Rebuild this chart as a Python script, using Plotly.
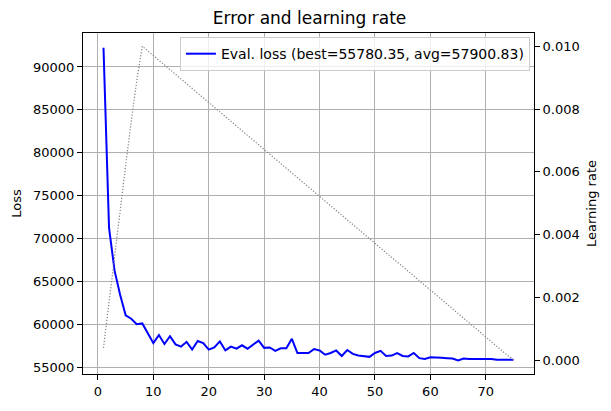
import plotly.graph_objects as go

epochs = list(range(1, 76))

loss = [92400, 71400, 66400, 63600, 61200, 60800, 60150, 60250, 59100, 57950,
        58900, 57850, 58750, 57800, 57550, 58100, 57200, 58200, 57950, 57200,
        57450, 58150, 57100, 57550, 57300, 57700, 57300, 57750, 58250, 57400,
        57450, 57050, 57350, 57350, 58450, 56800, 56800, 56800, 57250, 57100,
        56600, 56800, 57100, 56450, 57150, 56700, 56500, 56450, 56350, 56800,
        57050, 56450, 56500, 56800, 56450, 56400, 56800, 56200, 56100, 56300,
        56300, 56250, 56200, 56150, 55940, 56150, 56100, 56100, 56100, 56150,
        56100, 56000, 56000, 56000, 56000]
loss = [v - 160 for v in loss]

lr = [0.00040, 0.00190, 0.00340, 0.00480, 0.00620, 0.00760, 0.00890, 0.01000,
      0.00985, 0.00970, 0.00955, 0.00940, 0.00925, 0.00910, 0.00896, 0.00881,
      0.00866, 0.00851, 0.00836, 0.00821, 0.00806, 0.00791, 0.00776, 0.00761,
      0.00746, 0.00731, 0.00716, 0.00701, 0.00687, 0.00672, 0.00657, 0.00642,
      0.00627, 0.00612, 0.00597, 0.00582, 0.00567, 0.00552, 0.00537, 0.00522,
      0.00507, 0.00493, 0.00478, 0.00463, 0.00448, 0.00433, 0.00418, 0.00403,
      0.00388, 0.00373, 0.00358, 0.00343, 0.00328, 0.00313, 0.00299, 0.00284,
      0.00269, 0.00254, 0.00239, 0.00224, 0.00209, 0.00194, 0.00179, 0.00164,
      0.00149, 0.00134, 0.00119, 0.00104, 0.00090, 0.00075, 0.00060, 0.00045,
      0.00030, 0.00015, 0.00002]

best_loss = "55780.35"
avg_loss = "57900.83"

FONT = "DejaVu Sans"

fig = go.Figure()
fig.add_trace(go.Scatter(
    x=epochs, y=loss, mode="lines",
    line=dict(color="#0000ff", width=2),
    name=f"Eval. loss (best={best_loss}, avg={avg_loss})",
    yaxis="y",
))
fig.add_trace(go.Scatter(
    x=epochs, y=lr, mode="lines",
    line=dict(color="#808080", width=1.2, dash="1.2px,1.8px"),
    name="lr", showlegend=False,
    yaxis="y2",
))

axis_common = dict(
    showline=True, linecolor="black", linewidth=1,
    ticks="outside", ticklen=5, tickcolor="black", tickwidth=1,
    tickfont=dict(family=FONT, size=13, color="black"),
    zeroline=False,
)

fig.update_layout(
    width=611, height=411,
    margin=dict(l=83, r=77, t=33, b=34),
    paper_bgcolor="white", plot_bgcolor="white",
    font=dict(family=FONT, size=13, color="black"),
    title=dict(text="Error and learning rate", x=0.5067, xanchor="center",
               y=0.955, yanchor="middle",
               font=dict(family=FONT, size=17, color="black")),
    xaxis=dict(range=[-2.7, 78.7], dtick=10, tick0=0, mirror=True,
               showgrid=True, gridcolor="#b0b0b0", gridwidth=1,
               **axis_common),
    yaxis=dict(range=[54191, 93958], dtick=5000, tick0=0, tickformat="d",
               mirror=True, showgrid=True, gridcolor="#b0b0b0", gridwidth=1,
               title=dict(text="Loss", font=dict(family=FONT, size=13), standoff=8),
               **axis_common),
    yaxis2=dict(overlaying="y", side="right", range=[-0.00043, 0.01042],
                dtick=0.002, tick0=0, tickformat=".3f", showgrid=False,
                title=dict(text="Learning rate", font=dict(family=FONT, size=13), standoff=8),
                **axis_common),
    legend=dict(x=0.991, y=0.988, xanchor="right", yanchor="top",
                bgcolor="rgba(255,255,255,0.8)", bordercolor="#cccccc", borderwidth=1,
                font=dict(family=FONT, size=14, color="black")),
    showlegend=True,
)

fig.write_html("out.html")
